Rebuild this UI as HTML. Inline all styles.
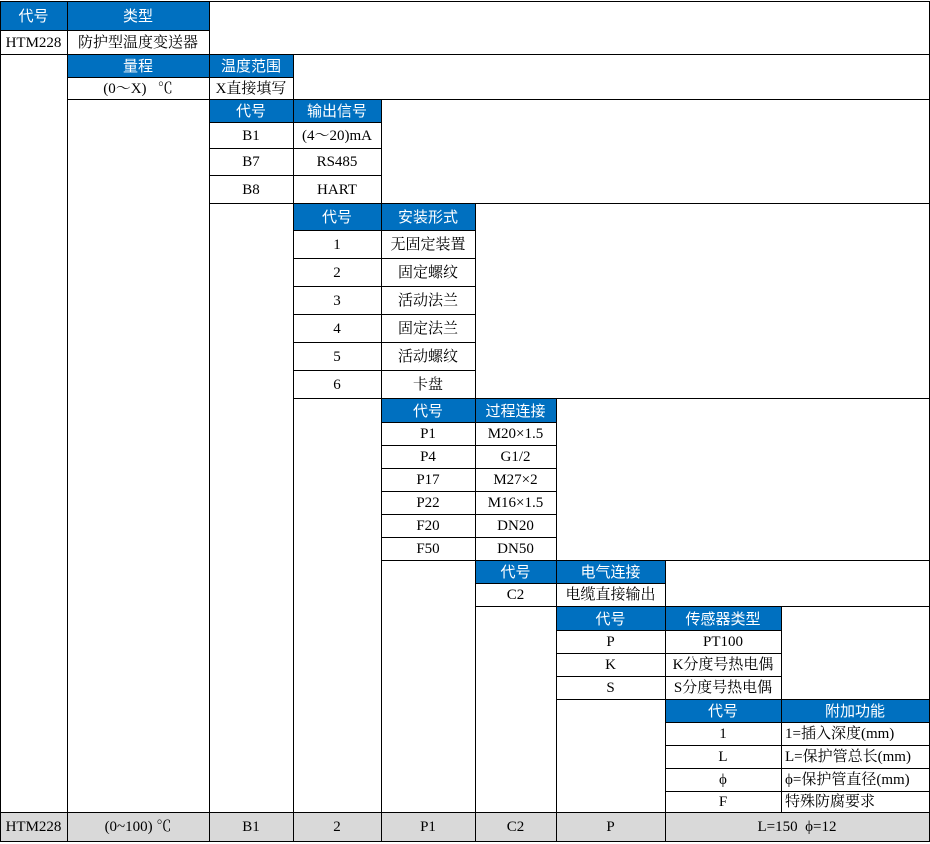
<!DOCTYPE html>
<html><head><meta charset="utf-8"><style>
body{margin:0;width:930px;height:844px;background:#fff;position:relative;overflow:hidden;font-family:"Liberation Serif","Noto Serif CJK SC",serif;font-size:15px;color:#000}
.b{position:absolute;background:#0070c0}
.g{position:absolute;background:#d9d9d9}
.h{position:absolute;height:1px;background:#000}
.v{position:absolute;width:1px;background:#000}
.t{position:absolute;display:flex;align-items:center;justify-content:center;white-space:nowrap;line-height:1;padding-top:2px;box-sizing:border-box}
.w{color:#fff;font-family:"Liberation Sans","Noto Sans CJK SC",sans-serif;font-size:15px}
.l{justify-content:flex-start;padding-left:4px}
</style></head><body>
<div class="b" style="left:0;top:1px;width:209px;height:29px"></div>
<div class="b" style="left:67px;top:54px;width:226px;height:23px"></div>
<div class="b" style="left:209px;top:99px;width:172px;height:23px"></div>
<div class="b" style="left:293px;top:203px;width:182px;height:27px"></div>
<div class="b" style="left:381px;top:398px;width:175px;height:24px"></div>
<div class="b" style="left:475px;top:560px;width:190px;height:23px"></div>
<div class="b" style="left:556px;top:606px;width:225px;height:24px"></div>
<div class="b" style="left:665px;top:699px;width:264px;height:23px"></div>
<div class="g" style="left:0;top:812px;width:930px;height:30px"></div>
<div class="h" style="top:1px;left:0;width:930px"></div>
<div class="h" style="top:30px;left:0;width:209px"></div>
<div class="h" style="top:54px;left:0;width:930px"></div>
<div class="h" style="top:77px;left:67px;width:226px"></div>
<div class="h" style="top:99px;left:67px;width:863px"></div>
<div class="h" style="top:122px;left:209px;width:172px"></div>
<div class="h" style="top:148px;left:209px;width:172px"></div>
<div class="h" style="top:175px;left:209px;width:172px"></div>
<div class="h" style="top:203px;left:209px;width:721px"></div>
<div class="h" style="top:230px;left:293px;width:182px"></div>
<div class="h" style="top:258px;left:293px;width:182px"></div>
<div class="h" style="top:286px;left:293px;width:182px"></div>
<div class="h" style="top:314px;left:293px;width:182px"></div>
<div class="h" style="top:342px;left:293px;width:182px"></div>
<div class="h" style="top:370px;left:293px;width:182px"></div>
<div class="h" style="top:398px;left:293px;width:637px"></div>
<div class="h" style="top:422px;left:381px;width:175px"></div>
<div class="h" style="top:445px;left:381px;width:175px"></div>
<div class="h" style="top:468px;left:381px;width:175px"></div>
<div class="h" style="top:491px;left:381px;width:175px"></div>
<div class="h" style="top:514px;left:381px;width:175px"></div>
<div class="h" style="top:537px;left:381px;width:175px"></div>
<div class="h" style="top:560px;left:381px;width:549px"></div>
<div class="h" style="top:583px;left:475px;width:190px"></div>
<div class="h" style="top:606px;left:475px;width:455px"></div>
<div class="h" style="top:630px;left:556px;width:225px"></div>
<div class="h" style="top:653px;left:556px;width:225px"></div>
<div class="h" style="top:676px;left:556px;width:225px"></div>
<div class="h" style="top:699px;left:556px;width:374px"></div>
<div class="h" style="top:722px;left:665px;width:265px"></div>
<div class="h" style="top:745px;left:665px;width:265px"></div>
<div class="h" style="top:768px;left:665px;width:265px"></div>
<div class="h" style="top:791px;left:665px;width:265px"></div>
<div class="h" style="top:812px;left:0;width:930px"></div>
<div class="h" style="top:841px;left:0;width:930px"></div>
<div class="v" style="left:0;top:1px;height:841px"></div>
<div class="v" style="left:67px;top:1px;height:841px"></div>
<div class="v" style="left:209px;top:1px;height:841px"></div>
<div class="v" style="left:293px;top:54px;height:788px"></div>
<div class="v" style="left:381px;top:99px;height:743px"></div>
<div class="v" style="left:475px;top:203px;height:639px"></div>
<div class="v" style="left:556px;top:398px;height:444px"></div>
<div class="v" style="left:665px;top:560px;height:282px"></div>
<div class="v" style="left:781px;top:606px;height:206px"></div>
<div class="v" style="left:929px;top:1px;height:841px"></div>
<div class="t w" style="left:0;top:1px;width:67px;height:29px">代号</div>
<div class="t w" style="left:67px;top:1px;width:142px;height:29px">类型</div>
<div class="t" style="left:0;top:30px;width:67px;height:24px">HTM228</div>
<div class="t" style="left:67px;top:30px;width:142px;height:24px">防护型温度变送器</div>
<div class="t w" style="left:67px;top:54px;width:142px;height:23px">量程</div>
<div class="t w" style="left:209px;top:54px;width:84px;height:23px">温度范围</div>
<div class="t" style="left:67px;top:77px;width:142px;height:22px">(0～X)&nbsp;&nbsp;&nbsp;℃</div>
<div class="t" style="left:209px;top:77px;width:84px;height:22px">X直接填写</div>
<div class="t w" style="left:209px;top:99px;width:84px;height:23px">代号</div>
<div class="t w" style="left:293px;top:99px;width:88px;height:23px">输出信号</div>
<div class="t" style="left:209px;top:122px;width:84px;height:26px">B1</div>
<div class="t" style="left:293px;top:122px;width:88px;height:26px">(4～20)mA</div>
<div class="t" style="left:209px;top:148px;width:84px;height:27px">B7</div>
<div class="t" style="left:293px;top:148px;width:88px;height:27px">RS485</div>
<div class="t" style="left:209px;top:175px;width:84px;height:28px">B8</div>
<div class="t" style="left:293px;top:175px;width:88px;height:28px">HART</div>
<div class="t w" style="left:293px;top:203px;width:88px;height:27px">代号</div>
<div class="t w" style="left:381px;top:203px;width:94px;height:27px">安装形式</div>
<div class="t" style="left:293px;top:230px;width:88px;height:28px">1</div>
<div class="t" style="left:381px;top:230px;width:94px;height:28px">无固定装置</div>
<div class="t" style="left:293px;top:258px;width:88px;height:28px">2</div>
<div class="t" style="left:381px;top:258px;width:94px;height:28px">固定螺纹</div>
<div class="t" style="left:293px;top:286px;width:88px;height:28px">3</div>
<div class="t" style="left:381px;top:286px;width:94px;height:28px">活动法兰</div>
<div class="t" style="left:293px;top:314px;width:88px;height:28px">4</div>
<div class="t" style="left:381px;top:314px;width:94px;height:28px">固定法兰</div>
<div class="t" style="left:293px;top:342px;width:88px;height:28px">5</div>
<div class="t" style="left:381px;top:342px;width:94px;height:28px">活动螺纹</div>
<div class="t" style="left:293px;top:370px;width:88px;height:28px">6</div>
<div class="t" style="left:381px;top:370px;width:94px;height:28px">卡盘</div>
<div class="t w" style="left:381px;top:398px;width:94px;height:24px">代号</div>
<div class="t w" style="left:475px;top:398px;width:81px;height:24px">过程连接</div>
<div class="t" style="left:381px;top:422px;width:94px;height:23px">P1</div>
<div class="t" style="left:475px;top:422px;width:81px;height:23px">M20×1.5</div>
<div class="t" style="left:381px;top:445px;width:94px;height:23px">P4</div>
<div class="t" style="left:475px;top:445px;width:81px;height:23px">G1/2</div>
<div class="t" style="left:381px;top:468px;width:94px;height:23px">P17</div>
<div class="t" style="left:475px;top:468px;width:81px;height:23px">M27×2</div>
<div class="t" style="left:381px;top:491px;width:94px;height:23px">P22</div>
<div class="t" style="left:475px;top:491px;width:81px;height:23px">M16×1.5</div>
<div class="t" style="left:381px;top:514px;width:94px;height:23px">F20</div>
<div class="t" style="left:475px;top:514px;width:81px;height:23px">DN20</div>
<div class="t" style="left:381px;top:537px;width:94px;height:23px">F50</div>
<div class="t" style="left:475px;top:537px;width:81px;height:23px">DN50</div>
<div class="t w" style="left:475px;top:560px;width:81px;height:23px">代号</div>
<div class="t w" style="left:556px;top:560px;width:109px;height:23px">电气连接</div>
<div class="t" style="left:475px;top:583px;width:81px;height:23px">C2</div>
<div class="t" style="left:556px;top:583px;width:109px;height:23px">电缆直接输出</div>
<div class="t w" style="left:556px;top:606px;width:109px;height:24px">代号</div>
<div class="t w" style="left:665px;top:606px;width:116px;height:24px">传感器类型</div>
<div class="t" style="left:556px;top:630px;width:109px;height:23px">P</div>
<div class="t" style="left:665px;top:630px;width:116px;height:23px">PT100</div>
<div class="t" style="left:556px;top:653px;width:109px;height:23px">K</div>
<div class="t" style="left:665px;top:653px;width:116px;height:23px">K分度号热电偶</div>
<div class="t" style="left:556px;top:676px;width:109px;height:23px">S</div>
<div class="t" style="left:665px;top:676px;width:116px;height:23px">S分度号热电偶</div>
<div class="t w" style="left:665px;top:699px;width:116px;height:23px">代号</div>
<div class="t w" style="left:781px;top:699px;width:148px;height:23px">附加功能</div>
<div class="t" style="left:665px;top:722px;width:116px;height:23px">1</div>
<div class="t l" style="left:781px;top:722px;width:148px;height:23px">1=插入深度(mm)</div>
<div class="t" style="left:665px;top:745px;width:116px;height:23px">L</div>
<div class="t l" style="left:781px;top:745px;width:148px;height:23px">L=保护管总长(mm)</div>
<div class="t" style="left:665px;top:768px;width:116px;height:23px">ϕ</div>
<div class="t l" style="left:781px;top:768px;width:148px;height:23px">ϕ=保护管直径(mm)</div>
<div class="t" style="left:665px;top:791px;width:116px;height:21px">F</div>
<div class="t l" style="left:781px;top:791px;width:148px;height:21px">特殊防腐要求</div>
<div class="t" style="left:0;top:812px;width:67px;height:29px">HTM228</div>
<div class="t" style="left:67px;top:812px;width:142px;height:29px">(0~100)&nbsp;℃</div>
<div class="t" style="left:209px;top:812px;width:84px;height:29px">B1</div>
<div class="t" style="left:293px;top:812px;width:88px;height:29px">2</div>
<div class="t" style="left:381px;top:812px;width:94px;height:29px">P1</div>
<div class="t" style="left:475px;top:812px;width:81px;height:29px">C2</div>
<div class="t" style="left:556px;top:812px;width:109px;height:29px">P</div>
<div class="t" style="left:665px;top:812px;width:264px;height:29px">L=150&nbsp;&nbsp;ϕ=12</div>
</body></html>
